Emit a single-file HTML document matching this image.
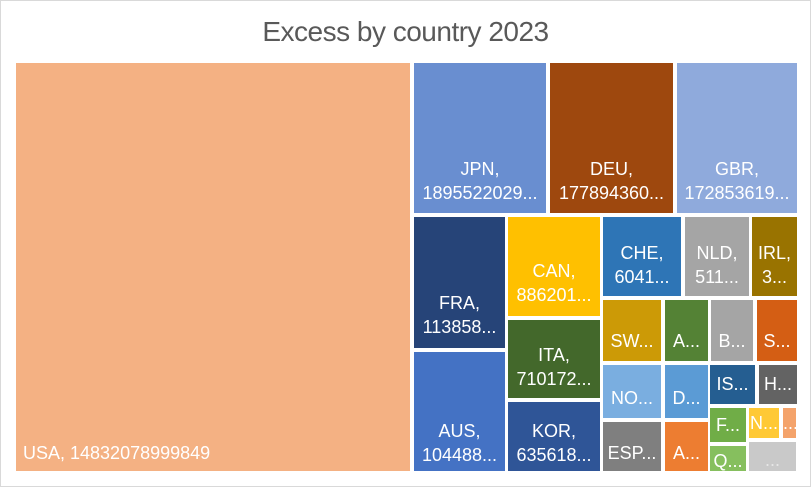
<!DOCTYPE html>
<html><head><meta charset="utf-8"><style>
html,body{margin:0;padding:0;background:#fff;}
#c{position:relative;width:809px;height:485px;border:1px solid #d9d9d9;overflow:hidden;font-family:"Liberation Sans",sans-serif;}
.t{position:absolute;left:0;width:100%;top:15px;text-align:center;font-size:28px;color:#595959;letter-spacing:-0.5px}
.r{position:absolute;color:#fff;font-size:18px;line-height:24px;text-align:center;white-space:nowrap;overflow:hidden}
.r span{position:absolute;left:0;width:100%}
</style></head><body><div id="c">
<div class="t">Excess by country 2023</div>
<div class="r" style="left:15px;top:62px;width:394px;height:408px;background:#F4B183"><span style="top:378px;text-align:left;left:7px">USA, 14832078999849</span></div>
<div class="r" style="left:413px;top:62px;width:132px;height:150px;background:#698ED0"><span style="top:94px">JPN,<br>1895522029...</span></div>
<div class="r" style="left:549px;top:62px;width:123px;height:150px;background:#9E480E"><span style="top:94px">DEU,<br>177894360...</span></div>
<div class="r" style="left:676px;top:62px;width:120px;height:150px;background:#8FAADC"><span style="top:94px">GBR,<br>172853619...</span></div>
<div class="r" style="left:413px;top:216px;width:91px;height:131px;background:#264478"><span style="top:74px">FRA,<br>113858...</span></div>
<div class="r" style="left:413px;top:351px;width:91px;height:119px;background:#4472C4"><span style="top:67px">AUS,<br>104488...</span></div>
<div class="r" style="left:507px;top:216px;width:92px;height:99px;background:#FFC000"><span style="top:42px">CAN,<br>886201...</span></div>
<div class="r" style="left:507px;top:319px;width:92px;height:78px;background:#43682B"><span style="top:23px">ITA,<br>710172...</span></div>
<div class="r" style="left:507px;top:401px;width:92px;height:69px;background:#2F5597"><span style="top:17px">KOR,<br>635618...</span></div>
<div class="r" style="left:602px;top:216px;width:78px;height:79px;background:#2E75B6"><span style="top:24px">CHE,<br>6041...</span></div>
<div class="r" style="left:684px;top:216px;width:64px;height:79px;background:#A5A5A5"><span style="top:24px">NLD,<br>511...</span></div>
<div class="r" style="left:751px;top:216px;width:45px;height:79px;background:#997300"><span style="top:24px">IRL,<br>3...</span></div>
<div class="r" style="left:602px;top:299px;width:58px;height:61px;background:#CC9A06"><span style="top:29px">SW...</span></div>
<div class="r" style="left:664px;top:299px;width:43px;height:61px;background:#548235"><span style="top:29px">A...</span></div>
<div class="r" style="left:710px;top:299px;width:42px;height:61px;background:#A5A5A5"><span style="top:29px">B...</span></div>
<div class="r" style="left:756px;top:299px;width:40px;height:61px;background:#D45E14"><span style="top:29px">S...</span></div>
<div class="r" style="left:602px;top:364px;width:58px;height:53px;background:#7AAEE0"><span style="top:21px">NO...</span></div>
<div class="r" style="left:664px;top:364px;width:43px;height:53px;background:#5B9BD5"><span style="top:21px">D...</span></div>
<div class="r" style="left:709px;top:364px;width:45px;height:39px;background:#255E91"><span style="top:7px">IS...</span></div>
<div class="r" style="left:758px;top:364px;width:38px;height:39px;background:#636363"><span style="top:7px">H...</span></div>
<div class="r" style="left:602px;top:421px;width:58px;height:49px;background:#7F7F7F"><span style="top:19px">ESP...</span></div>
<div class="r" style="left:664px;top:421px;width:43px;height:49px;background:#ED7D31"><span style="top:19px">A...</span></div>
<div class="r" style="left:709px;top:407px;width:36px;height:34px;background:#70AD47"><span style="top:5px">F...</span></div>
<div class="r" style="left:709px;top:445px;width:36px;height:25px;background:#86BF5E"><span style="top:3px">Q...</span></div>
<div class="r" style="left:748px;top:407px;width:30px;height:30px;background:#FFC935"><span style="top:3px">N...</span></div>
<div class="r" style="left:782px;top:407px;width:13px;height:30px;background:#F4A36B"><span style="top:3px">...</span></div>
<div class="r" style="left:748px;top:441px;width:47px;height:29px;background:#C9C9C9;color:#e6e6e6"><span style="top:6px">...</span></div>
</div></body></html>
